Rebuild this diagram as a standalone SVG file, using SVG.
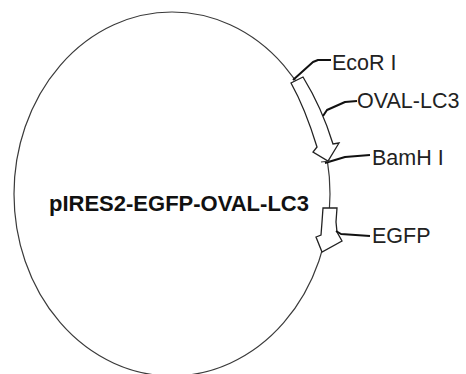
<svg xmlns="http://www.w3.org/2000/svg" width="466" height="374" viewBox="0 0 466 374">
<style>
.bb{fill:none;stroke:#3a3a3a;stroke-width:1.2}
.feat{fill:#fff;stroke:#222;stroke-width:1.3;stroke-linejoin:miter}
.lead{fill:none;stroke:#111;stroke-width:2;stroke-linejoin:round}
.lbl{font-family:"Liberation Sans",Arial,sans-serif;font-size:21.5px;fill:#222}
.title{font-family:"Liberation Sans",Arial,sans-serif;font-size:22px;font-weight:bold;fill:#111}
</style>
<rect width="466" height="374" fill="#fff"/>
<g id="backbone">
<ellipse class="bb" cx="172" cy="194" rx="158" ry="182"/>
</g>
<g id="oval-lc3">
<path class="feat" d="M303,77 L291,83 Q305,108 317,147 L313,152 L328,161 L339,143 L333,144 Q322,108 303,77 Z"/>
</g>
<g id="egfp">
<path class="feat" d="M323,208 L337,208 L336,222 L337,232 L342,241 L322,252 L316,237 L321,235 L322,222 Z"/>
</g>
<g id="connectors">
<path class="lead" d="M293,80 L313,62 L318,60 L331,60"/>
<path class="lead" d="M323,116 L327,110 L345,102 L357,101"/>
<path class="lead" d="M325,163 L345,157 L370,155"/>
<path class="lead" d="M336,231 L341,234 L370,236"/>
<path class="bb" d="M321,162 L330,161"/>
</g>
<g id="title"><text class="title" x="49" y="211">pIRES2-EGFP-OVAL-LC3</text></g>
<g id="label-ecori"><text class="lbl" x="332" y="70">EcoR I</text></g>
<g id="label-oval"><text class="lbl" x="357" y="108">OVAL-LC3</text></g>
<g id="label-bamhi"><text class="lbl" x="372" y="165">BamH I</text></g>
<g id="label-egfp"><text class="lbl" x="372" y="243">EGFP</text></g>
</svg>
